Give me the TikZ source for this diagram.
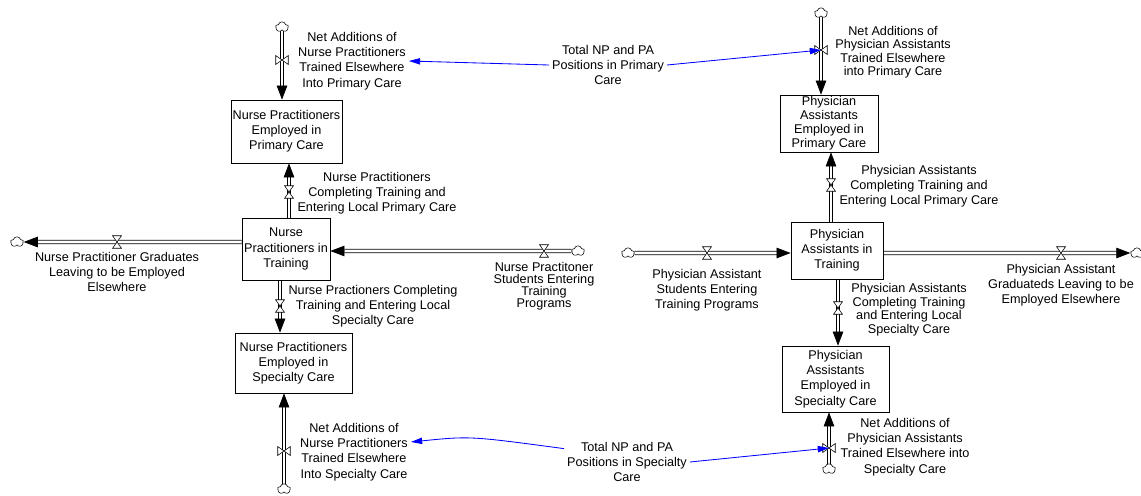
\documentclass[tikz,border=0pt]{standalone}
\usepackage{fontspec}
\setmainfont{Liberation Sans}
\usetikzlibrary{arrows.meta, shapes.symbols, backgrounds}
\definecolor{linkblue}{RGB}{0,0,255}
\tikzstyle{stock} = [rectangle, draw=black, line width=0.5pt, fill=white, align=center, inner sep=0.5pt, font=\fontsize{9}{10.8}\selectfont]
\tikzstyle{lbl} = [align=center, inner sep=2pt, font=\fontsize{9}{10.8}\selectfont]
\tikzstyle{lblsnug} = [align=center, inner sep=2pt, font=\fontsize{9}{9.6}\selectfont]
\tikzstyle{lbltight} = [align=center, inner sep=2pt, font=\fontsize{9}{8.6}\selectfont]
\tikzstyle{cloudy} = [cloud, cloud puffs=5, aspect=1.3, draw=black, line width=0.4pt, fill=white, inner sep=0pt, minimum width=0.32cm, minimum height=0.26cm]
\tikzstyle{valveh} = [rectangle, inner sep=0pt, minimum width=0.25cm, minimum height=0.34cm, path picture={\draw[fill=white, line width=0.4pt]
  ([xshift=0.4pt,yshift=-0.4pt]path picture bounding box.north west) -- ([xshift=-0.4pt,yshift=-0.4pt]path picture bounding box.north east) --
  ([xshift=0.4pt,yshift=0.4pt]path picture bounding box.south west) -- ([xshift=-0.4pt,yshift=0.4pt]path picture bounding box.south east) -- cycle;}]
\tikzstyle{valvev} = [rectangle, inner sep=0pt, minimum width=0.34cm, minimum height=0.25cm, path picture={\draw[fill=white, line width=0.4pt]
  ([xshift=0.4pt,yshift=-0.4pt]path picture bounding box.north west) -- ([xshift=0.4pt,yshift=0.4pt]path picture bounding box.south west) --
  ([xshift=-0.4pt,yshift=-0.4pt]path picture bounding box.north east) -- ([xshift=-0.4pt,yshift=0.4pt]path picture bounding box.south east) -- cycle;}]
\tikzstyle{pipe} = [draw=black, line width=0.5pt, double=white, double distance=2pt, -{Triangle[length=10pt,width=7.5pt]}]
\tikzstyle{link} = [draw=linkblue, line width=0.6pt, -{Triangle[length=8pt,width=4.5pt]}]

\begin{document}
\begin{tikzpicture}[x=0.025cm, y=-0.025cm]
\useasboundingbox (0,0) rectangle (1141,495);

% Stocks - nurse practitioners
\node[stock, minimum width=2.775cm, minimum height=1.575cm] (npPrim) at (286.5,131.5) {Nurse Practitioners\\Employed in\\Primary Care};
\node[stock, minimum width=2.2cm, minimum height=1.55cm] (npTrain) at (286,249) {Nurse\\Practitioners in\\Training};
\node[stock, minimum width=2.925cm, minimum height=1.5cm] (npSpec) at (293.5,363) {Nurse Practitioners\\Employed in\\Specialty Care};

% Stocks - physician assistants
\node[stock, minimum width=2.45cm, minimum height=1.425cm, font=\fontsize{9}{10}\selectfont] (paPrim) at (829,123.5) {Physician\\Assistants\\Employed in\\Primary Care};
\node[stock, minimum width=2.3cm, minimum height=1.425cm] (paTrain) at (837,250.5) {Physician\\Assistants in\\Training};
\node[stock, minimum width=2.675cm, minimum height=1.65cm] (paSpec) at (835.5,379) {Physician\\Assistants\\Employed in\\Specialty Care};

% Clouds
\node[cloudy] (cNPtop) at (282,27) {};
\node[cloudy] (cNPleave) at (17,242) {};
\node[cloudy] (cNPin) at (578,251) {};
\node[cloudy] (cNPbot) at (284,489) {};
\node[cloudy] (cPAtop) at (821,13) {};
\node[cloudy] (cPAin) at (628,253) {};
\node[cloudy] (cPAleave) at (1137,253) {};
\node[cloudy] (cPAbot) at (829,469) {};

% Valves
\node[valvev] (vNPPrim) at (282,60) {};
\node[valveh] (vNPtrPrim) at (289,192) {};
\node[valveh] (vNPleave) at (117,242) {};
\node[valveh] (vNPin) at (544,251) {};
\node[valveh] (vNPtrSpec) at (280,306) {};
\node[valvev] (vNPSpec) at (284,451) {};
\node[valvev] (vPAPrim) at (821,50) {};
\node[valveh] (vPAtrPrim) at (831,185) {};
\node[valveh] (vPAin) at (707,253) {};
\node[valveh] (vPAleave) at (1061,253) {};
\node[valveh] (vPAtrSpec) at (838,308) {};
\node[valvev] (vPASpec) at (829,448) {};

% Flow labels
\node[lbl] (lNPnetPrim) at (352,61) {Net Additions of\\Nurse Practitioners\\Trained Elsewhere\\Into Primary Care};
\node[lbl] (lNPtrPrim) at (377,193) {Nurse Practitioners\\Completing Training and\\Entering Local Primary Care};
\node[lbl] (lNPleave) at (117,272) {Nurse Practitioner Graduates\\Leaving to be Employed\\Elsewhere};
\node[lbltight] (lNPin) at (544,286) {Nurse Practitoner\\Students Entering\\Training\\Programs};
\node[lbl] (lNPtrSpec) at (373,306) {Nurse Practioners Completing\\Training and Entering Local\\Specialty Care};
\node[lbl] (lNPnetSpec) at (354,452) {Net Additions of\\Nurse Practitioners\\Trained Elsewhere\\Into Specialty Care};
\node[lblsnug] (lPAnetPrim) at (893,52) {Net Additions of\\Physician Assistants\\Trained Elsewhere\\into Primary Care};
\node[lbl] (lPAtrPrim) at (919,186) {Physician Assistants\\Completing Training and\\Entering Local Primary Care};
\node[lbl] (lPAin) at (707,290) {Physician Assistant\\Students Entering\\Training Programs};
\node[lbl] (lPAleave) at (1061,285) {Physician Assistant\\Graduateds Leaving to be\\Employed Elsewhere};
\node[lblsnug] (lPAtrSpec) at (909,309.5) {Physician Assistants\\Completing Training\\and Entering Local\\Specialty Care};
\node[lbl] (lPAnetSpec) at (905,447) {Net Additions of\\Physician Assistants\\Trained Elsewhere into\\Specialty Care};

% Auxiliaries
\node[lbl] (totPrim) at (608,65) {Total NP and PA\\Positions in Primary\\Care};
\node[lbl] (totSpec) at (627,462) {Total NP and PA\\Positions in Specialty\\Care};

% Pipes
\begin{scope}[on background layer]
\draw[pipe] (cNPtop.south) -- (cNPtop.south |- npPrim.north);
\draw[pipe] (vNPtrPrim |- npTrain.north) -- (vNPtrPrim |- npPrim.south);
\draw[pipe] (vNPleave -| npTrain.west) -- (cNPleave.east);
\draw[pipe] (cNPin.west) -- (vNPin -| npTrain.east);
\draw[pipe] (vNPtrSpec |- npTrain.south) -- (vNPtrSpec |- npSpec.north);
\draw[pipe] (cNPbot.north) -- (cNPbot.north |- npSpec.south);
\draw[pipe] (cPAtop.south) -- (cPAtop.south |- paPrim.north);
\draw[pipe] (vPAtrPrim |- paTrain.north) -- (vPAtrPrim |- paPrim.south);
\draw[pipe] (cPAin.east) -- (vPAin -| paTrain.west);
\draw[pipe] (vPAleave -| paTrain.east) -- (cPAleave.west);
\draw[pipe] (vPAtrSpec |- paTrain.south) -- (vPAtrSpec |- paSpec.north);
\draw[pipe] (cPAbot.north) -- (cPAbot.north |- paSpec.south);
\end{scope}

% Information links
\draw[link] (totPrim.west) -- (lNPnetPrim.east);
\draw[link] (totPrim.east) -- (vPAPrim.center);
\draw[link] (totSpec.168) .. controls (470,436) .. (lNPnetSpec.10);
\draw[link] (totSpec.east) -- (vPASpec.center);

\end{tikzpicture}
\end{document}
